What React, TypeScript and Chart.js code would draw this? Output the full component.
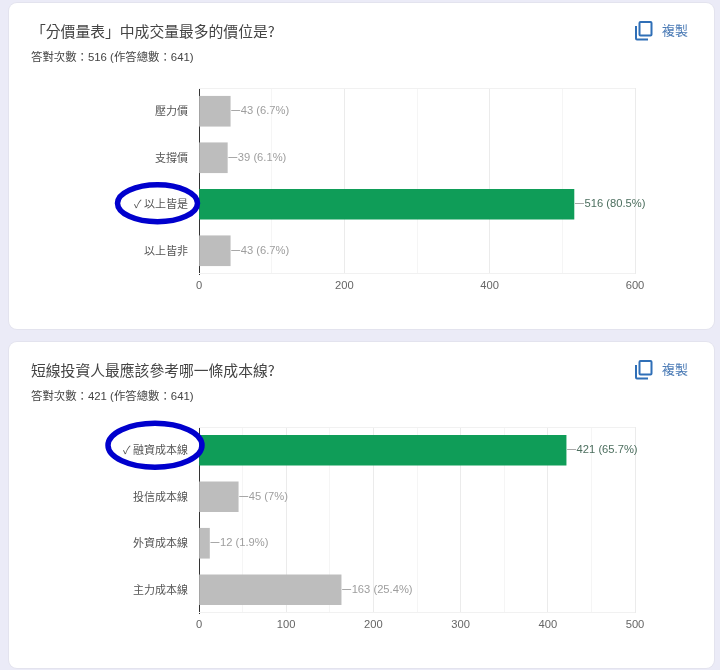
import { useRef, useEffect } from 'react';
import { Chart, registerables } from 'chart.js';

Chart.register(...registerables);

const CJK = '"Noto Sans CJK TC", sans-serif';
const LATIN = '"Liberation Sans", "Noto Sans CJK TC", sans-serif';

const priceCategories = ['壓力價', '支撐價', '✓ 以上皆是', '以上皆非'];
const priceValues = [43, 39, 516, 43];
const pricePercents = ['6.7%', '6.1%', '80.5%', '6.7%'];

const costCategories = ['✓ 融資成本線', '投信成本線', '外資成本線', '主力成本線'];
const costValues = [421, 45, 12, 163];
const costPercents = ['65.7%', '7%', '1.9%', '25.4%'];

const GREEN = '#0f9d58';
const GREY = '#bdbdbd';

interface RingOptions {
  index: number;
  centerX: number;
  offsetY: number;
  radiusX: number;
  radiusY: number;
}

// faint lines closing the plot at top and bottom
const plotFrame = {
  id: 'plotFrame',
  beforeDatasetsDraw(chart: any) {
    const { ctx, chartArea } = chart;
    ctx.save();
    ctx.strokeStyle = '#f1f1f1';
    ctx.lineWidth = 1;
    ctx.beginPath();
    ctx.moveTo(chartArea.left, Math.round(chartArea.top) + 0.5);
    ctx.lineTo(chartArea.right, Math.round(chartArea.top) + 0.5);
    ctx.moveTo(chartArea.left, Math.round(chartArea.bottom) - 0.5);
    ctx.lineTo(chartArea.right, Math.round(chartArea.bottom) - 0.5);
    ctx.stroke();
    ctx.restore();
  },
};

const answerLabels = {
  id: 'answerLabels',
  afterDatasetsDraw(chart: any, _args: any, opts: any) {
    const { ctx } = chart;
    const meta = chart.getDatasetMeta(0);
    ctx.save();
    ctx.font = `11.2px ${LATIN}`;
    ctx.textBaseline = 'middle';
    meta.data.forEach((bar: any, i: number) => {
      const correct = i === opts.correct;
      ctx.strokeStyle = '#a8a8a8';
      ctx.lineWidth = 1;
      ctx.beginPath();
      ctx.moveTo(bar.x + 1, Math.round(bar.y) - 0.5);
      ctx.lineTo(bar.x + 10, Math.round(bar.y) - 0.5);
      ctx.stroke();
      ctx.fillStyle = correct ? '#4d6f5f' : '#9e9e9e';
      ctx.fillText(`${opts.values[i]} (${opts.percents[i]})`, bar.x + 10.5, bar.y);
    });
    ctx.restore();
  },
};

// hand drawn looking blue circle round the correct answer
const answerRing = {
  id: 'answerRing',
  afterDraw(chart: any, _args: any, opts: RingOptions) {
    const { ctx, scales } = chart;
    ctx.save();
    ctx.strokeStyle = '#0000cd';
    ctx.lineWidth = 5.5;
    ctx.beginPath();
    ctx.ellipse(
      opts.centerX,
      scales.y.getPixelForValue(opts.index) + opts.offsetY,
      opts.radiusX,
      opts.radiusY,
      0,
      0,
      Math.PI * 2
    );
    ctx.stroke();
    ctx.restore();
  },
};

interface QuizChartProps {
  categories: string[];
  values: number[];
  percents: string[];
  correct: number;
  max: number;
  gridStep: number;
  labelStep: number;
  ring: RingOptions;
}

function QuizChart({ categories, values, percents, correct, max, gridStep, labelStep, ring }: QuizChartProps) {
  const canvasRef = useRef<HTMLCanvasElement>(null);

  useEffect(() => {
    if (!canvasRef.current) return;

    const chart = new Chart(canvasRef.current, {
      type: 'bar',
      data: {
        labels: categories,
        datasets: [
          {
            data: values,
            backgroundColor: values.map((_, i) => (i === correct ? GREEN : GREY)),
            barThickness: 30,
          },
        ],
      },
      options: {
        indexAxis: 'y',
        responsive: false,
        animation: false,
        layout: { padding: { left: 0, right: 79, top: 85, bottom: 25 } },
        plugins: {
          legend: { display: false },
          tooltip: { enabled: false },
          answerLabels: { values, percents, correct },
          answerRing: ring,
        } as any,
        scales: {
          x: {
            min: 0,
            max,
            afterBuildTicks: (axis: any) => {
              const ticks = [];
              for (let v = 0; v <= max; v += gridStep) ticks.push({ value: v });
              axis.ticks = ticks;
            },
            afterFit: (axis: any) => {
              axis.height = 30;
            },
            border: { display: false },
            grid: {
              drawTicks: false,
              color: (c: any) => (c.tick.value % labelStep === 0 ? '#ebebeb' : '#f5f5f5'),
            },
            ticks: {
              autoSkip: false,
              maxRotation: 0,
              padding: 5,
              color: '#666',
              font: { family: LATIN, size: 11.2 },
              callback: (v: any) => (Number(v) % labelStep === 0 ? String(v) : ''),
            },
          },
          y: {
            afterFit: (axis: any) => {
              axis.width = 190;
            },
            border: { color: '#333', width: 1 },
            grid: { display: false, drawTicks: false },
            ticks: {
              padding: 11,
              color: '#555',
              font: { family: CJK, size: 11 },
            },
          },
        },
      },
      plugins: [plotFrame, answerLabels, answerRing],
    });

    return () => {
      chart.destroy();
    };
  }, [categories, values, percents, correct, max, gridStep, labelStep, ring]);

  return <canvas ref={canvasRef} width={705} height={326} style={{ position: 'absolute', left: 0, top: 0 }} />;
}

function CopyButton() {
  return (
    <div style={{ position: 'absolute', left: 626, top: 17, width: 70, height: 22 }}>
      <svg width="18" height="20" viewBox="0 0 18 20" style={{ position: 'absolute', left: 0, top: 1 }}>
        <rect x="4.5" y="1" width="12" height="13.5" rx="1" fill="none" stroke="#2f6fb7" strokeWidth="2" />
        <path d="M1 5 V17.5 a1 1 0 0 0 1 1 H13" fill="none" stroke="#2f6fb7" strokeWidth="2" />
      </svg>
      <span style={{ position: 'absolute', left: 27, top: 0, font: `13px ${CJK}`, color: '#4a7ab5' }}>複製</span>
    </div>
  );
}

interface CardProps {
  top: number;
  title: string;
  summary: string;
  children: React.ReactNode;
}

function Card({ top, title, summary, children }: CardProps) {
  return (
    <div
      style={{
        position: 'absolute',
        left: 9,
        top,
        width: 705,
        height: 326,
        background: '#fff',
        borderRadius: 8,
        boxShadow: '0 0 0 1px #e3e3ee',
      }}
    >
      {children}
      <div
        style={{
          position: 'absolute',
          left: 22,
          top: 16,
          font: `14.8px ${CJK}`,
          lineHeight: '24px',
          color: '#444',
          whiteSpace: 'nowrap',
        }}
      >
        {title}
      </div>
      <div
        style={{
          position: 'absolute',
          left: 22,
          top: 46,
          font: `11.4px ${LATIN}`,
          lineHeight: '16px',
          color: '#444',
          whiteSpace: 'nowrap',
        }}
      >
        {summary}
      </div>
      <CopyButton />
    </div>
  );
}

const priceRing: RingOptions = { index: 2, centerX: 148.5, offsetY: -1, radiusX: 40, radiusY: 18.5 };
const costRing: RingOptions = { index: 0, centerX: 146, offsetY: -5, radiusX: 47, radiusY: 22 };

export default function App() {
  return (
    <div style={{ position: 'fixed', left: 0, top: 0, width: 720, height: 670, background: '#ebebf7', overflow: 'hidden' }}>
      <Card top={3} title="「分價量表」中成交量最多的價位是?" summary="答對次數：516 (作答總數：641)">
        <QuizChart
          categories={priceCategories}
          values={priceValues}
          percents={pricePercents}
          correct={2}
          max={600}
          gridStep={100}
          labelStep={200}
          ring={priceRing}
        />
      </Card>
      <Card top={342} title="短線投資人最應該參考哪一條成本線?" summary="答對次數：421 (作答總數：641)">
        <QuizChart
          categories={costCategories}
          values={costValues}
          percents={costPercents}
          correct={0}
          max={500}
          gridStep={50}
          labelStep={100}
          ring={costRing}
        />
      </Card>
    </div>
  );
}
